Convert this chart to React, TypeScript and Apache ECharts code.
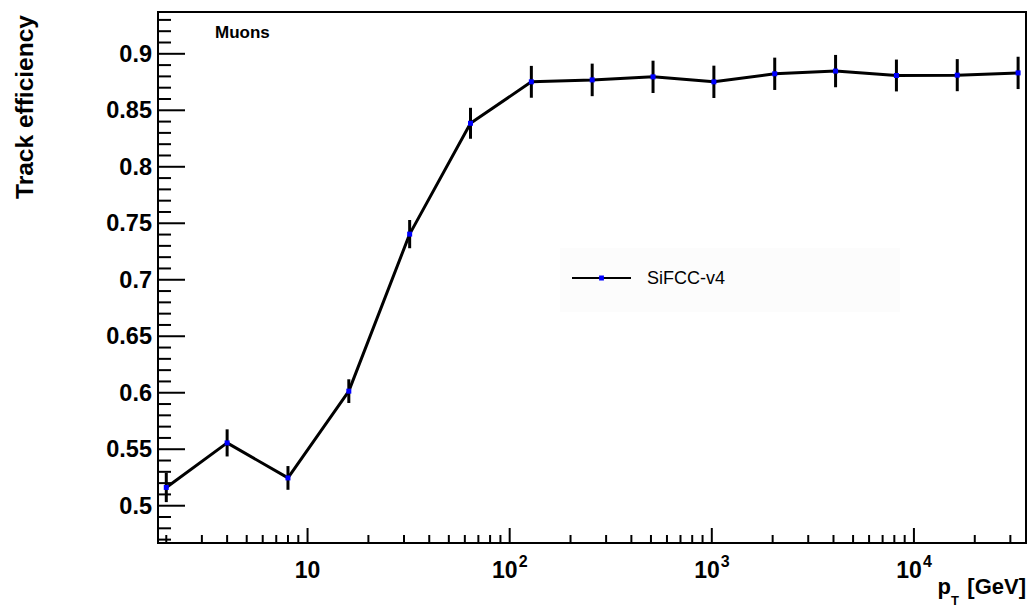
import React, { useEffect, useRef } from "react";
import * as echarts from "echarts";

// ---- data ----
const seriesName = "SiFCC-v4";
const ptValues = [2, 4, 8, 16, 32, 64, 128, 256, 512, 1024, 2048, 4096, 8192, 16384, 32768];
const efficiency = [0.5162, 0.5556, 0.5246, 0.6014, 0.7404, 0.8385, 0.8752, 0.8769, 0.8796, 0.8752, 0.8823, 0.8847, 0.8808, 0.8811, 0.8831];
const efficiencyErr = [0.013, 0.012, 0.0105, 0.0105, 0.0125, 0.0137, 0.0141, 0.0144, 0.0143, 0.0143, 0.0143, 0.0143, 0.0141, 0.0142, 0.0143];

const yTickValues = [0.5, 0.55, 0.6, 0.65, 0.7, 0.75, 0.8, 0.85, 0.9];
const yTickLabels = ["0.5", "0.55", "0.6", "0.65", "0.7", "0.75", "0.8", "0.85", "0.9"];
const xMajorTicks = [10, 100, 1000, 10000];
const xMajorExponents = ["", "2", "3", "4"];

const X_MIN = 1.82;
const X_MAX = 35850;
const Y_MIN = 0.467;
const Y_MAX = 0.937;

const FONT = "'Liberation Sans', Arial, Helvetica, sans-serif";

function xMinorTicks(): number[] {
  const out: number[] = [];
  for (let d = 1; d <= 10000; d *= 10) {
    for (let m = 2; m <= 9; m++) {
      const v = m * d;
      if (v > X_MIN && v < X_MAX) out.push(v);
    }
  }
  return out;
}

function yMinorTicks(): number[] {
  const out: number[] = [];
  for (let k = 47; k <= 93; k++) {
    if (k % 5 !== 0) out.push(k / 100);
  }
  return out;
}

export default function App() {
  const ref = useRef<HTMLDivElement>(null);

  useEffect(() => {
    if (!ref.current) return;
    const chart = echarts.init(ref.current, undefined, { renderer: "svg" });

    const lineData = ptValues.map((x, i) => [x, efficiency[i]]);
    const errData = ptValues.map((x, i) => [x, efficiency[i], efficiencyErr[i]]);
    const xMinor = xMinorTicks();
    const yMinor = yMinorTicks();

    const axisRender = (params: any, api: any) => {
      const children: any[] = [];
      const origin = api.coord([X_MIN, Y_MIN]);
      const ax = origin[0];
      const ay = origin[1];
      const tickStyle = { stroke: "#000", lineWidth: 2 };
      // y ticks
      yMinor.forEach((v) => {
        const p = api.coord([X_MIN, v]);
        children.push({ type: "line", shape: { x1: ax, y1: p[1], x2: ax + 13, y2: p[1] }, style: tickStyle });
      });
      yTickValues.forEach((v, i) => {
        const p = api.coord([X_MIN, v]);
        children.push({ type: "line", shape: { x1: ax, y1: p[1], x2: ax + 27, y2: p[1] }, style: tickStyle });
        children.push({
          type: "text",
          style: {
            x: ax - 6, y: p[1], text: yTickLabels[i],
            fill: "#000", fontFamily: FONT, fontSize: 23.5, fontWeight: "bold",
            align: "right", verticalAlign: "middle", textAlign: "right", textVerticalAlign: "middle",
          },
        });
      });
      // x ticks
      xMinor.forEach((v) => {
        const p = api.coord([v, Y_MIN]);
        children.push({ type: "line", shape: { x1: p[0], y1: ay, x2: p[0], y2: ay - 8 }, style: tickStyle });
      });
      xMajorTicks.forEach((v, i) => {
        const p = api.coord([v, Y_MIN]);
        children.push({ type: "line", shape: { x1: p[0], y1: ay, x2: p[0], y2: ay - 15 }, style: tickStyle });
        const exp = xMajorExponents[i];
        if (!exp) {
          children.push({
            type: "text",
            style: {
              x: p[0], y: ay + 27, text: "10", fill: "#000", fontFamily: FONT, fontSize: 23, fontWeight: "bold",
              align: "center", verticalAlign: "middle", textAlign: "center", textVerticalAlign: "middle",
            },
          });
        } else {
          children.push({
            type: "text",
            style: {
              x: p[0] + 8, y: ay + 27, text: "10", fill: "#000", fontFamily: FONT, fontSize: 23, fontWeight: "bold",
              align: "right", verticalAlign: "middle", textAlign: "right", textVerticalAlign: "middle",
            },
          });
          children.push({
            type: "text",
            style: {
              x: p[0] + 9, y: ay + 18, text: exp, fill: "#000", fontFamily: FONT, fontSize: 16, fontWeight: "bold",
              align: "left", verticalAlign: "middle", textAlign: "left", textVerticalAlign: "middle",
            },
          });
        }
      });
      return { type: "group", children };
    };

    const errRender = (params: any, api: any) => {
      const x = api.value(0);
      const y = api.value(1);
      const e = api.value(2);
      const lo = api.coord([x, y - e]);
      const hi = api.coord([x, y + e]);
      return {
        type: "line",
        shape: { x1: lo[0], y1: lo[1], x2: hi[0], y2: hi[1] },
        style: { stroke: "#000", lineWidth: 3 },
      };
    };

    chart.setOption({
      animation: false,
      backgroundColor: "#fff",
      grid: {
        left: 158, top: 12, width: 868, height: 531,
        show: true, borderColor: "#000", borderWidth: 2, backgroundColor: "transparent",
      },
      xAxis: {
        type: "log", logBase: 10, min: X_MIN, max: X_MAX,
        axisLine: { show: false }, axisTick: { show: false }, axisLabel: { show: false },
        splitLine: { show: false }, minorTick: { show: false }, minorSplitLine: { show: false },
      },
      yAxis: {
        type: "value", min: Y_MIN, max: Y_MAX,
        axisLine: { show: false }, axisTick: { show: false }, axisLabel: { show: false },
        splitLine: { show: false },
      },
      legend: {
        data: [seriesName],
        left: 571, top: 269, padding: 0,
        itemWidth: 59, itemHeight: 6,
        textStyle: { fontFamily: FONT, fontSize: 18, color: "#000", padding: [0, 0, 0, 11] },
      },
      graphic: [
        { type: "rect", left: 560, top: 248, shape: { width: 340, height: 64 }, style: { fill: "#fcfcfc" }, z: -1, silent: true },
        {
          type: "text", left: 215, top: 24,
          style: { text: "Muons", fill: "#000", font: `bold 17px ${FONT}` },
        },
        {
          type: "text", x: 24, y: 107, rotation: Math.PI / 2,
          style: {
            x: 0, y: 0, text: "Track efficiency", fill: "#000", font: `bold 24.5px ${FONT}`,
            align: "center", verticalAlign: "middle", textAlign: "center", textVerticalAlign: "middle",
          },
        },
        {
          type: "text", x: 951, y: 586,
          style: { x: 0, y: 0, text: "p", fill: "#000", font: `bold 22px ${FONT}`, align: "right", verticalAlign: "middle", textAlign: "right", textVerticalAlign: "middle" },
        },
        {
          type: "text", x: 951, y: 600,
          style: { x: 0, y: 0, text: "T", fill: "#000", font: `bold 13px ${FONT}`, align: "left", verticalAlign: "middle", textAlign: "left", textVerticalAlign: "middle" },
        },
        {
          type: "text", x: 1026, y: 586,
          style: { x: 0, y: 0, text: "[GeV]", fill: "#000", font: `bold 22px ${FONT}`, align: "right", verticalAlign: "middle", textAlign: "right", textVerticalAlign: "middle" },
        },
      ],
      series: [
        {
          name: "axes", type: "custom", data: [[10, 0.7]], renderItem: axisRender, silent: true, z: 5,
        },
        {
          name: "errors", type: "custom", data: errData, renderItem: errRender, silent: true, z: 2,
          encode: { x: 0, y: 1 },
        },
        {
          name: seriesName, type: "line", data: lineData,
          symbol: "rect", symbolSize: 5,
          itemStyle: { color: "#0000ff" },
          lineStyle: { color: "#000", width: 3 },
          z: 3,
        },
      ],
    });

    return () => chart.dispose();
  }, []);

  return (
    <div
      ref={ref}
      style={{ position: "absolute", left: 0, top: 0, width: 1031, height: 607, background: "#fff" }}
    />
  );
}
